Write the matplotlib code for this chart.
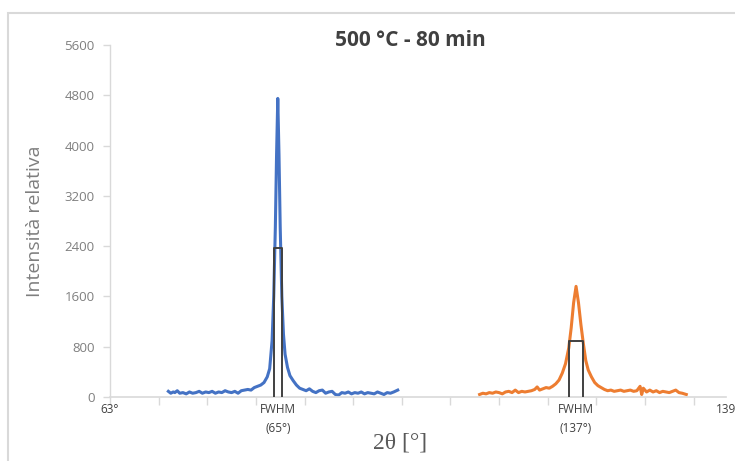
import matplotlib
matplotlib.use("Agg")
import matplotlib.pyplot as plt
from matplotlib.patches import Rectangle
from matplotlib.transforms import blended_transform_factory

# ---------------- data ----------------
blue_x = [70.2, 70.5, 70.8, 71.0, 71.3, 71.6, 72.0, 72.4, 72.8, 73.2, 73.6, 74.0, 74.4, 74.8,
          75.2, 75.6, 76.0, 76.4, 76.8, 77.2, 77.6, 78.0, 78.4, 78.8, 79.2, 79.6, 80.0, 80.4,
          80.8, 81.2, 81.6, 82.0, 82.4, 82.7, 83.0, 83.2, 83.4, 83.55, 83.7, 83.85, 84.0, 84.2,
          84.4, 84.6, 84.9, 85.2, 85.6, 86.0, 86.4, 86.8, 87.2, 87.6, 88.0, 88.4, 88.8, 89.2,
          89.6, 90.0, 90.4, 90.8, 91.2, 91.6, 92.0, 92.4, 92.8, 93.2, 93.6, 94.0, 94.4, 94.8,
          95.2, 95.6, 96.0, 96.4, 96.8, 97.2, 97.6, 98.0, 98.5]
blue_y = [90, 60, 80, 70, 100, 60, 70, 50, 80, 60, 70, 90, 60, 80,
          70, 90, 60, 80, 70, 100, 80, 70, 90, 60, 100, 110, 120, 110,
          150, 170, 190, 230, 320, 450, 900, 1600, 2700, 3850, 4750, 3850, 2700, 1600,
          1000, 680, 470, 340, 260, 190, 140, 120, 100, 130, 90, 70, 100, 110,
          60, 80, 90, 40, 30, 70, 60, 80, 50, 70, 60, 80, 50, 70,
          60, 50, 80, 60, 40, 70, 60, 80, 110]

orange_x = [108.6, 109.0, 109.4, 109.8, 110.2, 110.6, 111.0, 111.4, 111.8, 112.2, 112.6, 113.0,
            113.4, 113.8, 114.2, 114.6, 115.0, 115.4, 115.7, 116.0, 116.4, 116.8, 117.2, 117.6,
            118.0, 118.4, 118.8, 119.2, 119.6, 119.9, 120.2, 120.5, 120.8, 121.1, 121.4, 121.7,
            122.0, 122.4, 122.8, 123.2, 123.6, 124.0, 124.4, 124.8, 125.2, 125.6, 126.0, 126.4,
            126.8, 127.2, 127.6, 128.0, 128.4, 128.6, 128.8, 129.2, 129.6, 130.0, 130.4, 130.8,
            131.2, 131.6, 132.0, 132.4, 132.8, 133.2, 133.6, 134.1]
orange_y = [40, 60, 50, 70, 60, 80, 70, 50, 80, 90, 70, 110,
            70, 90, 80, 90, 100, 120, 160, 110, 130, 150, 140, 170,
            210, 270, 380, 530, 780, 1100, 1500, 1760, 1500, 1150, 850, 580,
            430, 320, 230, 180, 150, 120, 100, 110, 90, 100, 110, 90,
            100, 110, 90, 100, 170, 40, 140, 80, 110, 80, 100, 70,
            90, 80, 70, 90, 110, 70, 60, 40]

# FWHM boxes: left edge, right edge, half-max height
fwhm_blue = [83.2, 84.2, 2370]
fwhm_orange = [119.6, 121.4, 890]

y_ticks = [0, 800, 1600, 2400, 3200, 4000, 4800, 5600]
x_minor = [63, 69, 75, 81, 87, 93, 99, 105, 111, 117, 123, 129, 135]
x_label_pos = [63, 83.7, 120.5, 139]
x_label_txt = ["63°", "FWHM\n(65°)", "FWHM\n(137°)", "139"]

# ---------------- figure ----------------
fig = plt.figure(figsize=(7.35, 4.61), dpi=100)
ax = fig.add_axes([110/735, 1-397/461, (726-110)/735, (397-45)/461])

blue = "#4472C4"
orange = "#ED7D31"
dark = "#404040"
grid_gray = "#D9D9D9"

ax.plot(blue_x, blue_y, color=blue, lw=2.2, zorder=2)
ax.plot(orange_x, orange_y, color=orange, lw=2.2, zorder=2)

for (l, r, h) in (fwhm_blue, fwhm_orange):
    ax.plot([l, l, r, r], [0, h, h, 0], color=dark, lw=1.4, zorder=3)

ax.set_xlim(63, 139)
ax.set_ylim(0, 5600)
ax.set_yticks(y_ticks)
ax.set_yticklabels([str(v) for v in y_ticks], color="#7F7F7F", fontsize=9.5,
                   family="Open Sans")
ax.tick_params(axis="y", length=5, color=grid_gray, pad=6, width=1)

ax.set_xticks(x_minor)
ax.set_xticklabels([""] * len(x_minor))
ax.tick_params(axis="x", length=6, color=grid_gray, width=1)

for s in ("top", "right"):
    ax.spines[s].set_visible(False)
ax.spines["left"].set_color(grid_gray)
ax.spines["bottom"].set_color(grid_gray)
ax.spines["left"].set_linewidth(1)
ax.spines["bottom"].set_linewidth(1.2)

trans = blended_transform_factory(ax.transData, fig.transFigure)
for pos, txt in zip(x_label_pos, x_label_txt):
    ax.text(pos, 1-403/461, txt, transform=trans, ha="center", va="top",
            fontsize=8.5, color=dark, family="Open Sans", linespacing=1.6,
            clip_on=False)

fig.text(410/735, 1-41/461, "500 °C - 80 min", ha="center", va="center",
         fontsize=15, fontweight="bold", color=dark, family="Open Sans")
fig.text(35/735, 1-221/461, "Intensità relativa", ha="center", va="center",
         rotation=90, fontsize=14, color="#7F7F7F", family="Open Sans")
fig.text(400/735, 1-443/461, "2θ [°]", ha="center", va="center",
         fontsize=17, color="#595959", family="Liberation Serif")

fig.patches.append(Rectangle((8/735, -0.05), 1.1, 1-13/461+0.05,
                             transform=fig.transFigure, fill=False,
                             edgecolor=grid_gray, lw=1.5))

fig.savefig("out.png", dpi=100)
